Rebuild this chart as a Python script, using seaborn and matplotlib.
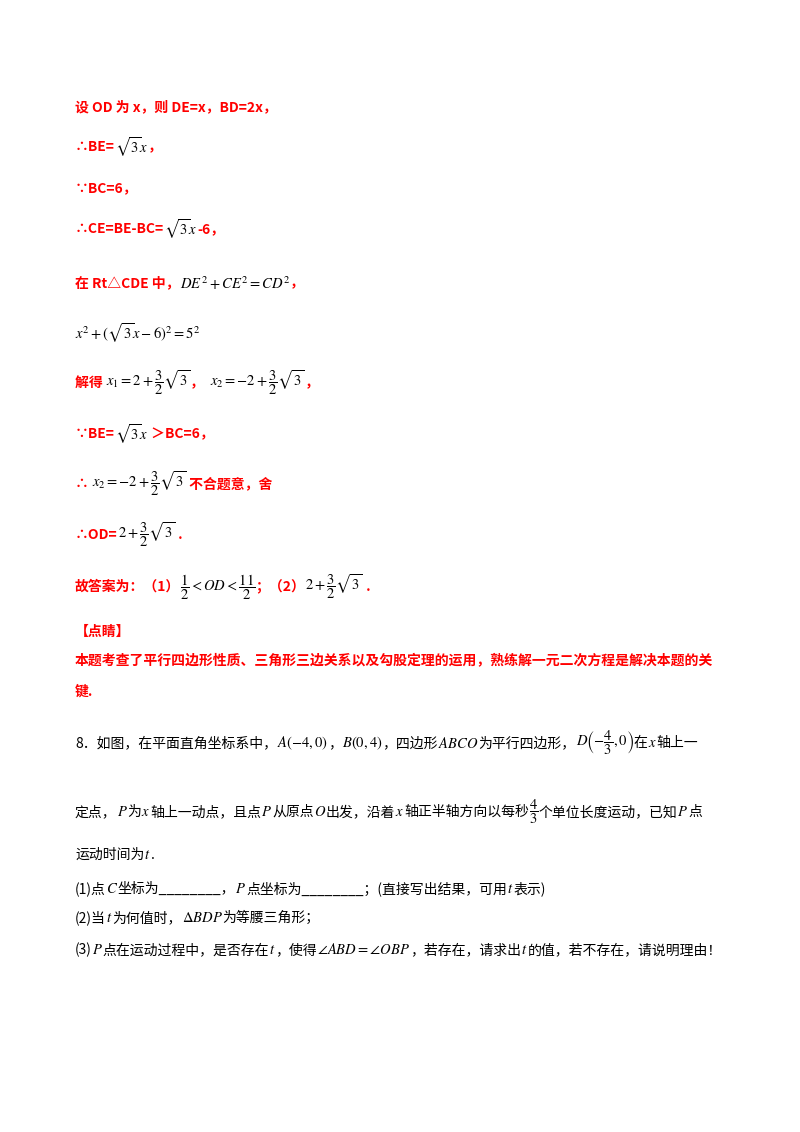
import matplotlib
matplotlib.use("Agg")
import matplotlib.pyplot as plt
import seaborn as sns

sns.set_theme(style="white")
plt.rcParams['font.family'] = ['Noto Sans CJK SC', 'DejaVu Sans']
plt.rcParams['mathtext.fontset'] = 'stix'

R = '#FF0000'
K = '#000000'

# each line: (top y in px, list of (text, colour))
lines = [
    (107, [("设 OD 为 x，则 DE=x，BD=2x，", R)]),
    (147, [("∴BE=", R), (r"$\sqrt{3}x$", K), ("，", R)]),
    (188, [("∵BC=6，", R)]),
    (229, [("∴CE=BE-BC=", R), (r"$\sqrt{3}x$", K), ("-6，", R)]),
    (283, [("在 Rt△CDE 中，", R), (r"$DE^2+CE^2=CD^2$", K), ("，", R)]),
    (333, [(r"$x^2+(\sqrt{3}x-6)^2=5^2$", K)]),
    (383, [("解得 ", R), (r"$x_1=2+\dfrac{3}{2}\sqrt{3}$", K), ("，  ", R),
           (r"$x_2=-2+\dfrac{3}{2}\sqrt{3}$", K), ("，", R)]),
    (434, [("∵BE=", R), (r"$\sqrt{3}x$", K), (" ＞BC=6，", R)]),
    (484, [("∴ ", R), (r"$x_2=-2+\dfrac{3}{2}\sqrt{3}$", K), (" 不合题意，舍", R)]),
    (535, [("∴OD=", R), (r"$2+\dfrac{3}{2}\sqrt{3}$", K), (" .", R)]),
    (587, [("故答案为：（1）", R), (r"$\dfrac{1}{2}<OD<\dfrac{11}{2}$", K), ("；（2）", R),
           (r"$2+\dfrac{3}{2}\sqrt{3}$", K), (" .", R)]),
    (632, [("【点睛】", R)]),
    (660, [("本题考查了平行四边形性质、三角形三边关系以及勾股定理的运用，熟练解一元二次方程是解决本题的关", R)]),
    (692, [("键.", R)]),
    (743, [("8．如图，在平面直角坐标系中，", K), (r"$A\left(-4,0\right)$", K), ("，", K),
           (r"$B\left(0,4\right)$", K), ("，四边形", K), (r"$ABCO$", K), ("为平行四边形，", K),
           (r"$D\left(-\dfrac{4}{3},0\right)$", K), ("在", K), (r"$x$", K), ("轴上一", K)]),
    (812, [("定点，", K), (r"$P$", K), ("为", K), (r"$x$", K), ("轴上一动点，且点", K), (r"$P$", K),
           ("从原点", K), (r"$O$", K), ("出发，沿着", K), (r"$x$", K), ("轴正半轴方向以每秒", K),
           (r"$\dfrac{4}{3}$", K), ("个单位长度运动，已知", K), (r"$P$", K), ("点", K)]),
    (855, [("运动时间为", K), (r"$t$", K), (".", K)]),
    (889, [("(1)点", K), (r"$C$", K), ("坐标为________，", K), (r"$P$", K),
           ("点坐标为________；(直接写出结果，可用", K), (r"$t$", K), ("表示)", K)]),
    (918, [("(2)当", K), (r"$t$", K), ("为何值时，", K), (r"$\Delta BDP$", K), ("为等腰三角形；", K)]),
    (950, [("(3)", K), (r"$P$", K), ("点在运动过程中，是否存在", K), (r"$t$", K), ("，使得", K),
           (r"$\angle ABD=\angle OBP$", K), ("，若存在，请求出", K), (r"$t$", K),
           ("的值，若不存在，请说明理由！", K)]),
]

W, H = 800, 1132
fig = plt.figure(figsize=(W / 100, H / 100), dpi=100)
fig.patch.set_facecolor('white')
renderer = fig.canvas.get_renderer()

x0 = 75
for y, segs in lines:
    x = x0
    for txt, col in segs:
        is_math = txt.startswith('$')
        weight = 'bold' if (col == R and not is_math) else 'normal'
        t = fig.text(x / W, 1 - y / H, txt, color=col,
                     fontsize=10.5 if is_math else 10, fontweight=weight,
                     ha='left', va='center')
        bb = t.get_window_extent(renderer=renderer)
        x += bb.width

fig.savefig("out.png", dpi=100, facecolor='white')
